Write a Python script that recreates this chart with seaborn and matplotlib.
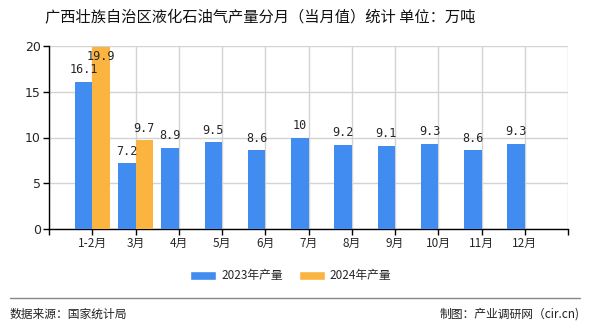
import matplotlib
matplotlib.use("Agg")
import matplotlib.pyplot as plt
import seaborn as sns
import pandas as pd
import numpy as np
from matplotlib.patches import Patch

categories = ["1-2月", "3月", "4月", "5月", "6月", "7月", "8月", "9月", "10月", "11月", "12月"]
values_2023 = [16.1, 7.2, 8.9, 9.5, 8.6, 10, 9.2, 9.1, 9.3, 8.6, 9.3]
values_2024 = [19.9, 9.7]
series_names = ["2023年产量", "2024年产量"]
yticks = [0, 5, 10, 15, 20]
title = "广西壮族自治区液化石油气产量分月（当月值）统计 单位：万吨"
source_text = "数据来源：国家统计局"
credit_text = "制图：产业调研网（cir.cn)"

colors = ["#418CF0", "#FCB441"]

sns.set_theme(style="white")
plt.rcParams["font.family"] = ["Noto Sans CJK SC", "DejaVu Sans"]
plt.rcParams["axes.unicode_minus"] = False

rows = []
for c, v in zip(categories, values_2023):
    rows.append({"月份": c, "系列": series_names[0], "值": v})
for c, v in zip(categories, values_2024):
    rows.append({"月份": c, "系列": series_names[1], "值": v})
df = pd.DataFrame(rows)

fig = plt.figure(figsize=(5.9, 3.3), dpi=100)
ax = fig.add_axes([49 / 590, 101 / 330, 519 / 590, 183 / 330])

sns.barplot(data=df, x="月份", y="值", hue="系列", order=categories,
            hue_order=series_names, palette=colors, width=0.8, dodge=True,
            saturation=1, ax=ax, legend=False, zorder=3, linewidth=0)

ax.set_xlim(-1, len(categories))
ax.set_ylim(0, 20)
ax.set_yticks(yticks)
ax.set_yticklabels([str(t) for t in yticks], fontsize=9, family=["DejaVu Sans"])
xt = list(range(-1, len(categories) + 1))
ax.set_xticks(xt)
ax.set_xticklabels([""] + categories + [""], fontsize=8.5)
ax.set_xlabel("")
ax.set_ylabel("")
ax.grid(True, color="#d3d3d3", linewidth=1, zorder=0)
ax.set_axisbelow(True)
for s in ["top", "right"]:
    ax.spines[s].set_visible(False)
for s in ["left", "bottom"]:
    ax.spines[s].set_color("black")
    ax.spines[s].set_linewidth(1)
ax.tick_params(axis="both", which="both", direction="out", length=4, width=1,
               color="black", bottom=True, left=True, pad=2)

# value labels
for container, vals in zip(ax.containers, [values_2023, values_2024]):
    for bar, v in zip(container.patches, vals):
        x = bar.get_x() + bar.get_width() / 2
        h = bar.get_height()
        lab = f"{v:g}"
        if h > 18.5:
            ax.annotate(lab, (x, 20), xytext=(0, -3), textcoords="offset points",
                        ha="center", va="top", fontsize=8.5, family="DejaVu Sans Mono",
                        zorder=5)
        else:
            ax.annotate(lab, (x, h), xytext=(0, 4), textcoords="offset points",
                        ha="center", va="bottom", fontsize=8.5, family="DejaVu Sans Mono",
                        zorder=5)

fig.text(260 / 590, 1 - 18 / 330, title, ha="center", va="center", fontsize=11,
         color="#111111")

handles = [Patch(facecolor=colors[0]), Patch(facecolor=colors[1])]
fig.legend(handles, series_names, loc="center", bbox_to_anchor=(291 / 590, 1 - 276 / 330),
           ncol=2, frameon=False, fontsize=8.5, handlelength=2.2, handleheight=0.9,
           columnspacing=1.4, handletextpad=0.4)

fig.add_artist(plt.Line2D([10 / 590, 580 / 590], [1 - 298 / 330, 1 - 298 / 330],
                          color="#888888", linewidth=1))
fig.text(10 / 590, 1 - 314 / 330, source_text, ha="left", va="center", fontsize=8.5,
         color="#222222")
fig.text(580 / 590, 1 - 314 / 330, credit_text, ha="right", va="center", fontsize=8.5,
         color="#222222")

fig.savefig("out.png", dpi=100)
